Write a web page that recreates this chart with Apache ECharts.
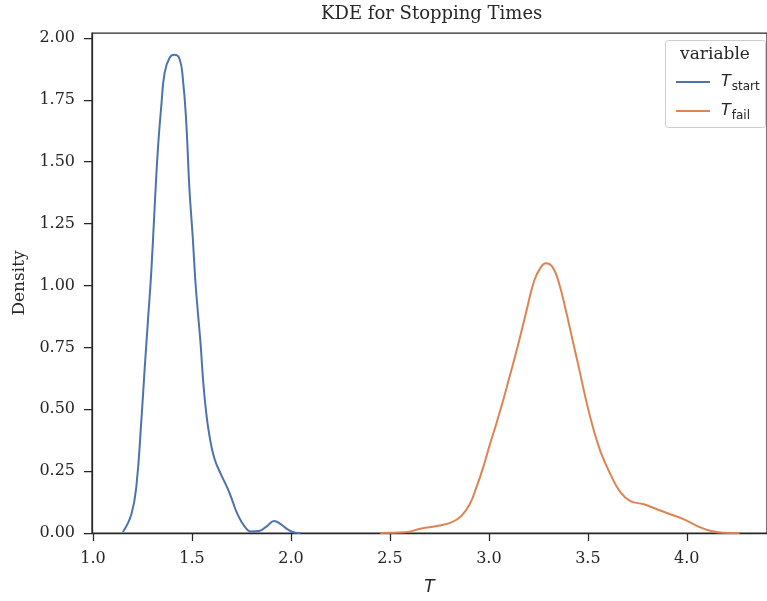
<!DOCTYPE html>
<html>
<head>
<meta charset="utf-8">
<script src="https://cdn.jsdelivr.net/npm/echarts@6/dist/echarts.min.js"></script>
<style>
  html, body { margin: 0; padding: 0; background: #fff; }
  #chart { width: 767px; height: 601px; }
</style>
</head>
<body>
<div id="chart"></div>
<script>
// Kernel density estimates of the two stopping times
const startX = [1.151, 1.194, 1.220, 1.245, 1.261, 1.278, 1.295, 1.312, 1.328, 1.345, 1.362, 1.387, 1.412, 1.437, 1.454, 1.471, 1.487, 1.504, 1.517, 1.530, 1.543, 1.556, 1.570, 1.588, 1.613, 1.647, 1.680, 1.705, 1.730, 1.764, 1.798, 1.839, 1.879, 1.915, 1.948, 1.981, 2.024, 2.049];
const startY = [0.004, 0.076, 0.196, 0.463, 0.663, 0.862, 1.062, 1.325, 1.553, 1.725, 1.860, 1.920, 1.932, 1.916, 1.836, 1.661, 1.393, 1.194, 1.020, 0.890, 0.770, 0.620, 0.500, 0.395, 0.302, 0.236, 0.180, 0.129, 0.076, 0.029, 0.006, 0.008, 0.028, 0.048, 0.036, 0.016, 0.001, 0.000];

const failX = [2.451, 2.576, 2.659, 2.744, 2.811, 2.861, 2.903, 2.936, 2.970, 3.004, 3.037, 3.070, 3.104, 3.146, 3.187, 3.230, 3.263, 3.288, 3.322, 3.355, 3.388, 3.422, 3.456, 3.489, 3.523, 3.564, 3.615, 3.665, 3.715, 3.782, 3.849, 3.916, 3.983, 4.050, 4.117, 4.184, 4.266];
const failY = [0.000, 0.003, 0.018, 0.029, 0.043, 0.069, 0.116, 0.182, 0.262, 0.355, 0.440, 0.530, 0.630, 0.755, 0.888, 1.022, 1.074, 1.090, 1.074, 1.007, 0.902, 0.782, 0.663, 0.543, 0.435, 0.329, 0.236, 0.164, 0.129, 0.116, 0.096, 0.076, 0.056, 0.029, 0.009, 0.001, 0.000];

const xTicks = [1.0, 1.5, 2.0, 2.5, 3.0, 3.5, 4.0];
const yTicks = [0, 0.25, 0.5, 0.75, 1.0, 1.25, 1.5, 1.75, 2.0];

const seriesNames = ['start', 'fail'];
const seriesColors = ['#4c72b0', '#dd8452'];

const zip = (xs, ys) => xs.map((x, i) => [x, ys[i]]);

const serif = 'DejaVu Serif';
const ink = '#262626';

const chart = echarts.init(document.getElementById('chart'), null, { renderer: 'canvas' });

chart.setOption({
  animation: false,
  backgroundColor: '#ffffff',
  title: {
    text: 'KDE for Stopping Times',
    left: 316,
    top: 0,
    textStyle: { fontFamily: serif, fontSize: 18, fontWeight: 'normal', color: ink }
  },
  grid: {
    left: 92, top: 33, width: 679, height: 506,
    show: true, borderColor: ink, borderWidth: 1.25, backgroundColor: 'transparent'
  },
  xAxis: {
    type: 'value',
    min: 0.995, max: 4.405,
    name: 'T',
    nameLocation: 'middle',
    nameGap: 46,
    nameTextStyle: { fontFamily: 'DejaVu Sans', fontStyle: 'italic', fontSize: 17, color: ink },
    axisLine: { show: true, lineStyle: { color: ink, width: 1.25 } },
    axisTick: { show: true, length: 8, customValues: xTicks, lineStyle: { color: ink, width: 1.25 } },
    axisLabel: {
      customValues: xTicks, margin: 18,
      formatter: v => v.toFixed(1),
      fontFamily: serif, fontSize: 16, color: ink
    },
    splitLine: { show: false }
  },
  yAxis: {
    type: 'value',
    min: 0, max: 2.02,
    name: 'Density',
    nameLocation: 'middle',
    nameGap: 58,
    nameTextStyle: { fontFamily: serif, fontSize: 17, color: ink },
    axisLine: { show: true, lineStyle: { color: ink, width: 1.25 } },
    axisTick: { show: true, length: 8, customValues: yTicks, lineStyle: { color: ink, width: 1.25 } },
    axisLabel: {
      customValues: yTicks, margin: 17,
      formatter: v => v.toFixed(2),
      fontFamily: serif, fontSize: 16, color: ink
    },
    splitLine: { show: false }
  },
  legend: {
    orient: 'vertical',
    left: 671,
    top: 69,
    z: 20,
    itemWidth: 34,
    itemHeight: 2,
    itemGap: 10,
    icon: 'rect',
    data: seriesNames,
    formatter: name => '{t|T}{s|' + name + '}',
    textStyle: {
      padding: [0, 0, 0, 6],
      rich: {
        t: { fontFamily: 'DejaVu Sans', fontStyle: 'italic', fontSize: 16, color: ink, verticalAlign: 'bottom' },
        s: { fontFamily: 'DejaVu Sans', fontSize: 12, color: ink, verticalAlign: 'bottom', padding: [0, 0, -3, 1] }
      }
    }
  },
  graphic: [
    {
      type: 'rect', z: 1, silent: true,
      shape: { x: 665.5, y: 40.5, width: 100, height: 87, r: 3 },
      style: { fill: '#ffffff', stroke: '#cccccc', lineWidth: 1 }
    },
    {
      type: 'text', z: 2, silent: true,
      x: 715, y: 55,
      style: { text: 'variable', fontFamily: serif, fontSize: 17, fill: ink, align: 'center', verticalAlign: 'middle' }
    }
  ],
  series: [
    {
      name: seriesNames[0], type: 'line', data: zip(startX, startY),
      smooth: 0.45, showSymbol: false, z: 0,
      lineStyle: { color: seriesColors[0], width: 2 }, itemStyle: { color: seriesColors[0] }
    },
    {
      name: seriesNames[1], type: 'line', data: zip(failX, failY),
      smooth: 0.45, showSymbol: false, z: 0,
      lineStyle: { color: seriesColors[1], width: 2 }, itemStyle: { color: seriesColors[1] }
    }
  ]
});
</script>
</body>
</html>
